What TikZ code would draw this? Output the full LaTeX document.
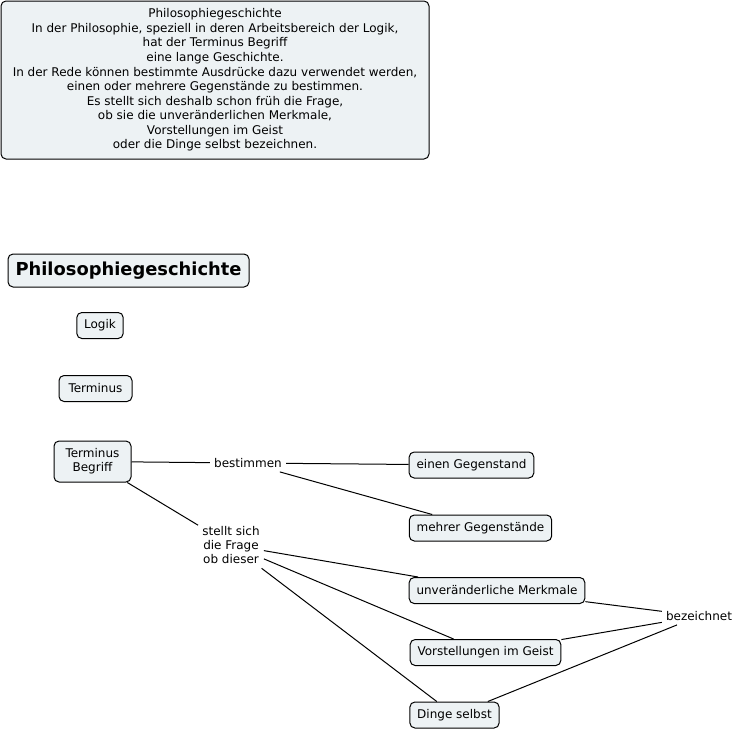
\documentclass[tikz,border=0pt]{standalone}
\usepackage{fontspec}
\setmainfont{DejaVu Sans}
\begin{document}
\begin{tikzpicture}[x=0.75pt,y=-0.75pt,
    concept/.style={draw, rounded corners=3.75pt, fill=conceptfill, line width=0.75pt,
      inner xsep=5.5pt, inner ysep=0pt, minimum height=19.5pt, align=center,
      font=\fontsize{9}{10.5}\selectfont},
    linkword/.style={inner sep=3pt, align=center, font=\fontsize{9}{10.8}\selectfont},
    link/.style={line width=0.75pt}]
    \definecolor{conceptfill}{HTML}{EDF2F4}
    \useasboundingbox (0,0) rectangle (734,732);
    \node[concept, minimum width=321pt, minimum height=118.5pt, font=\fontsize{9}{10.9}\selectfont] (info) at (215,80) {Philosophiegeschichte\\In der Philosophie, speziell in deren Arbeitsbereich der Logik,\\hat der Terminus Begriff\\eine lange Geschichte.\\In der Rede können bestimmte Ausdrücke dazu verwendet werden,\\einen oder mehrere Gegenstände zu bestimmen.\\Es stellt sich deshalb schon früh die Frage,\\ob sie die unveränderlichen Merkmale,\\Vorstellungen im Geist\\oder die Dinge selbst bezeichnen.};
    \node[concept, font=\fontsize{13.4}{15}\selectfont\bfseries, minimum height=24.75pt, minimum width=180.75pt] (phil) at (128.5,270.5) {Philosophiegeschichte};
    \node[concept] (logik) at (100,325.5) {Logik};
    \node[concept, minimum width=54.75pt] (term) at (95.5,388.5) {Terminus};
    \node[concept, minimum height=30.75pt, minimum width=57.75pt] (tb) at (92.5,461.5) {Terminus\\Begriff};
    \node[linkword] (best) at (248,463) {bestimmen};
    \node[concept] (einen) at (471.5,465) {einen Gegenstand};
    \node[concept] (mehr) at (480.5,528) {mehrer Gegenstände};
    \node[linkword] (frage) at (231,545) {stellt sich\\die Frage\\ob dieser};
    \node[concept] (merk) at (497,590.5) {unveränderliche Merkmale};
    \node[concept] (vorst) at (485.5,652.5) {Vorstellungen im Geist};
    \node[concept] (dinge) at (454.5,715) {Dinge selbst};
    \node[linkword] (bez) at (699,616) {bezeichnet};
    \draw[link] (tb) -- (best);
    \draw[link] (best) -- (einen);
    \draw[link] (best) -- (mehr);
    \draw[link] (tb) -- (frage);
    \draw[link] (frage) -- (merk);
    \draw[link] (frage) -- (vorst);
    \draw[link] (frage) -- (dinge);
    \draw[link] (merk) -- (bez);
    \draw[link] (vorst) -- (bez);
    \draw[link] (dinge) -- (bez);
\end{tikzpicture}
\end{document}
